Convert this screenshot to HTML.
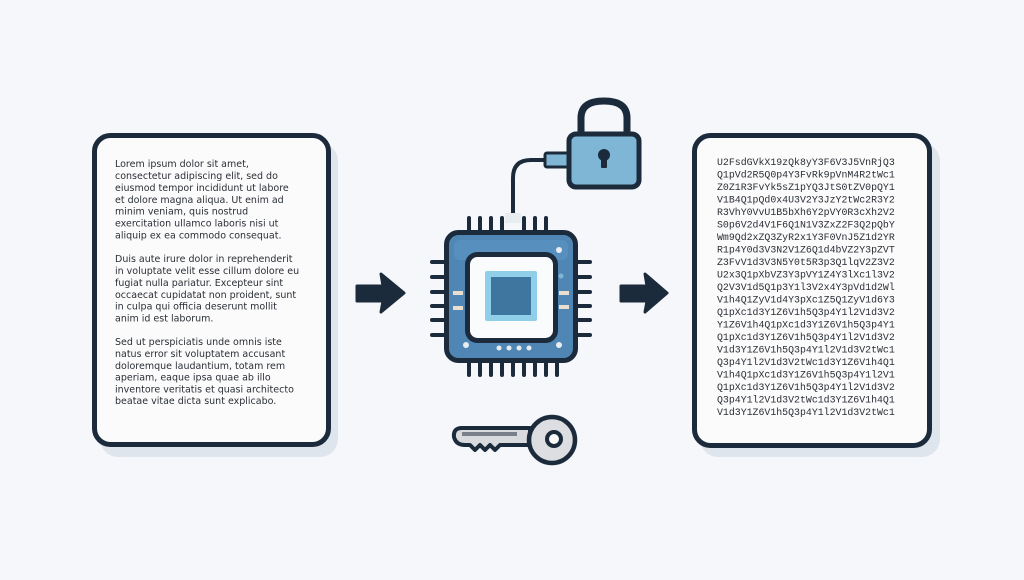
<!DOCTYPE html>
<html><head><meta charset="utf-8"><style>
html,body{margin:0;padding:0;background:#f5f7fa;}
svg{display:block}
.t{font-family:"DejaVu Sans","Liberation Sans",sans-serif;font-size:10px;fill:#2a2f36}
.m{font-family:"Liberation Mono","DejaVu Sans Mono",monospace;font-size:9.9px;fill:#2a2f36}
</style></head><body>
<svg width="1024" height="580" viewBox="0 0 1024 580" xmlns="http://www.w3.org/2000/svg">
<rect width="1024" height="580" fill="#f5f7fa"/>
<!-- left doc -->
<rect x="100" y="143" width="238" height="314" rx="18" fill="#dfe5ec"/>
<rect x="94.5" y="135.5" width="234" height="309" rx="16" fill="#fbfbfb" stroke="#1c2b3c" stroke-width="5"/>
<g transform="translate(115,0) scale(0.95,1)">
<text class="t" y="167">Lorem ipsum dolor sit amet,</text>
<text class="t" y="179">consectetur adipiscing elit, sed do</text>
<text class="t" y="191">eiusmod tempor incididunt ut labore</text>
<text class="t" y="203">et dolore magna aliqua. Ut enim ad</text>
<text class="t" y="214.5">minim veniam, quis nostrud</text>
<text class="t" y="226.5">exercitation ullamco laboris nisi ut</text>
<text class="t" y="238.5">aliquip ex ea commodo consequat.</text>
<text class="t" y="262">Duis aute irure dolor in reprehenderit</text>
<text class="t" y="274">in voluptate velit esse cillum dolore eu</text>
<text class="t" y="286">fugiat nulla pariatur. Excepteur sint</text>
<text class="t" y="298">occaecat cupidatat non proident, sunt</text>
<text class="t" y="309.5">in culpa qui officia deserunt mollit</text>
<text class="t" y="321.5">anim id est laborum.</text>
<text class="t" y="345">Sed ut perspiciatis unde omnis iste</text>
<text class="t" y="357">natus error sit voluptatem accusant</text>
<text class="t" y="369">doloremque laudantium, totam rem</text>
<text class="t" y="380.5">aperiam, eaque ipsa quae ab illo</text>
<text class="t" y="392.5">inventore veritatis et quasi architecto</text>
<text class="t" y="404">beatae vitae dicta sunt explicabo.</text>
</g>
<!-- right doc -->
<rect x="700" y="143" width="240" height="314" rx="18" fill="#dfe5ec"/>
<rect x="694.5" y="135.5" width="235" height="310" rx="16" fill="#fbfbfb" stroke="#1c2b3c" stroke-width="5"/>
<g class="m">
<text x="717" y="165">U2FsdGVkX19zQk8yY3F6V3J5VnRjQ3</text>
<text x="717" y="177.5">Q1pVd2R5Q0p4Y3FvRk9pVnM4R2tWc1</text>
<text x="717" y="190">Z0Z1R3FvYk5sZ1pYQ3JtS0tZV0pQY1</text>
<text x="717" y="202.5">V1B4Q1pQd0x4U3V2Y3JzY2tWc2R3Y2</text>
<text x="717" y="215">R3VhY0VvU1B5bXh6Y2pVY0R3cXh2V2</text>
<text x="717" y="227.5">S0p6V2d4V1F6Q1N1V3ZxZ2F3Q2pQbY</text>
<text x="717" y="240">Wm9Qd2xZQ3ZyR2x1Y3F0VnJ5Z1d2YR</text>
<text x="717" y="252.5">R1p4Y0d3V3N2V1Z6Q1d4bVZ2Y3pZVT</text>
<text x="717" y="265">Z3FvV1d3V3N5Y0t5R3p3Q1lqV2Z3V2</text>
<text x="717" y="277.5">U2x3Q1pXbVZ3Y3pVY1Z4Y3lXc1l3V2</text>
<text x="717" y="290">Q2V3V1d5Q1p3Y1l3V2x4Y3pVd1d2Wl</text>
<text x="717" y="302.5">V1h4Q1ZyV1d4Y3pXc1Z5Q1ZyV1d6Y3</text>
<text x="717" y="315">Q1pXc1d3Y1Z6V1h5Q3p4Y1l2V1d3V2</text>
<text x="717" y="327.5">Y1Z6V1h4Q1pXc1d3Y1Z6V1h5Q3p4Y1</text>
<text x="717" y="340">Q1pXc1d3Y1Z6V1h5Q3p4Y1l2V1d3V2</text>
<text x="717" y="352.5">V1d3Y1Z6V1h5Q3p4Y1l2V1d3V2tWc1</text>
<text x="717" y="365">Q3p4Y1l2V1d3V2tWc1d3Y1Z6V1h4Q1</text>
<text x="717" y="377.5">V1h4Q1pXc1d3Y1Z6V1h5Q3p4Y1l2V1</text>
<text x="717" y="390">Q1pXc1d3Y1Z6V1h5Q3p4Y1l2V1d3V2</text>
<text x="717" y="402.5">Q3p4Y1l2V1d3V2tWc1d3Y1Z6V1h4Q1</text>
<text x="717" y="415">V1d3Y1Z6V1h5Q3p4Y1l2V1d3V2tWc1</text>
</g>
<!-- arrows -->
<g fill="#1c2b3c" stroke="#1c2b3c" stroke-width="3" stroke-linejoin="round">
<path d="M357,286 L383,286 L381,274 L404,293 L381,312 L383,301 L357,301 Z"/>
<path d="M621,286 L647,286 L645,274 L667,293 L645,312 L647,301 L621,301 Z"/>
</g>
<!-- cable -->
<path d="M513,222 L513,178 Q513,160 531,160 L552,160" fill="none" stroke="#1c2b3c" stroke-width="4"/>
<rect x="545" y="153" width="24" height="14" rx="2" fill="#7fb5d5" stroke="#1c2b3c" stroke-width="3"/>
<rect x="505" y="213" width="16" height="10" fill="#e8edf2"/>
<!-- lock -->
<path d="M581,137 L581,118 Q581,101 604,101 Q627,101 627,118 L627,137" fill="none" stroke="#1c2b3c" stroke-width="7"/>
<rect x="569" y="134" width="70" height="53" rx="7" fill="#7fb5d5" stroke="#1c2b3c" stroke-width="5"/>
<circle cx="604" cy="155" r="6" fill="#1c2b3c"/>
<rect x="601" y="156" width="6" height="12" rx="1" fill="#1c2b3c"/>
<!-- chip pins -->
<g stroke="#1c2b3c" stroke-width="4" stroke-linecap="round">
<line x1="469" y1="218" x2="469" y2="232"/><line x1="480" y1="218" x2="480" y2="232"/><line x1="491" y1="218" x2="491" y2="232"/><line x1="502" y1="218" x2="502" y2="232"/><line x1="524" y1="218" x2="524" y2="232"/><line x1="535" y1="218" x2="535" y2="232"/><line x1="546" y1="218" x2="546" y2="232"/>
<line x1="469" y1="360" x2="469" y2="375"/><line x1="480" y1="360" x2="480" y2="375"/><line x1="491" y1="360" x2="491" y2="375"/><line x1="502" y1="360" x2="502" y2="375"/><line x1="513" y1="360" x2="513" y2="375"/><line x1="524" y1="360" x2="524" y2="375"/><line x1="535" y1="360" x2="535" y2="375"/><line x1="546" y1="360" x2="546" y2="375"/><line x1="557" y1="360" x2="557" y2="375"/>
<line x1="432" y1="262" x2="446" y2="262"/><line x1="432" y1="277" x2="446" y2="277"/><line x1="432" y1="292" x2="446" y2="292"/><line x1="432" y1="306" x2="446" y2="306"/><line x1="432" y1="320" x2="446" y2="320"/><line x1="432" y1="335" x2="446" y2="335"/>
<line x1="576" y1="262" x2="590" y2="262"/><line x1="576" y1="277" x2="590" y2="277"/><line x1="576" y1="292" x2="590" y2="292"/><line x1="576" y1="306" x2="590" y2="306"/><line x1="576" y1="320" x2="590" y2="320"/><line x1="576" y1="335" x2="590" y2="335"/>
</g>
<rect x="446.5" y="232.5" width="129" height="128" rx="12" fill="#4f86b4" stroke="#1c2b3c" stroke-width="5"/>
<rect x="454" y="240" width="114" height="20" rx="6" fill="#5e97c4" opacity="0.6"/>
<rect x="467.5" y="254.5" width="88" height="86" rx="10" fill="#fafbfc" stroke="#1c2b3c" stroke-width="5"/>
<rect x="485" y="271" width="52" height="50" rx="2" fill="#8fcfea"/>
<rect x="491" y="277" width="40" height="38" fill="#3f76a0"/>
<g fill="#eadfce"><rect x="453" y="291" width="10" height="4"/><rect x="453" y="306" width="10" height="4"/><rect x="559" y="291" width="10" height="4"/><rect x="559" y="305" width="10" height="4"/></g>
<g fill="#e8edf2"><circle cx="559" cy="250" r="3"/><circle cx="466" cy="345" r="3"/><circle cx="559" cy="345" r="3"/><circle cx="499" cy="348" r="2.5"/><circle cx="509" cy="348" r="2.5"/><circle cx="519" cy="348" r="2.5"/><circle cx="529" cy="348" r="2.5"/></g>
<circle cx="561" cy="276" r="2.5" fill="#7fb5d5"/>
<!-- key -->
<path d="M530,428 L462,428 Q453,428 454,437 Q456,445 465,445 L470,445 L475,450 L480,445 L485,450 L490,445 L495,450 L500,445 L530,445 Z" fill="#d8dadd" stroke="#1c2b3c" stroke-width="4" stroke-linejoin="round"/>
<rect x="462" y="432" width="55" height="4" fill="#7a8089"/>
<circle cx="552" cy="440" r="23" fill="#dcdee1" stroke="#1c2b3c" stroke-width="4.5"/>
<circle cx="554" cy="439" r="7" fill="#fafafa" stroke="#1c2b3c" stroke-width="4"/>
</svg>
</body></html>
